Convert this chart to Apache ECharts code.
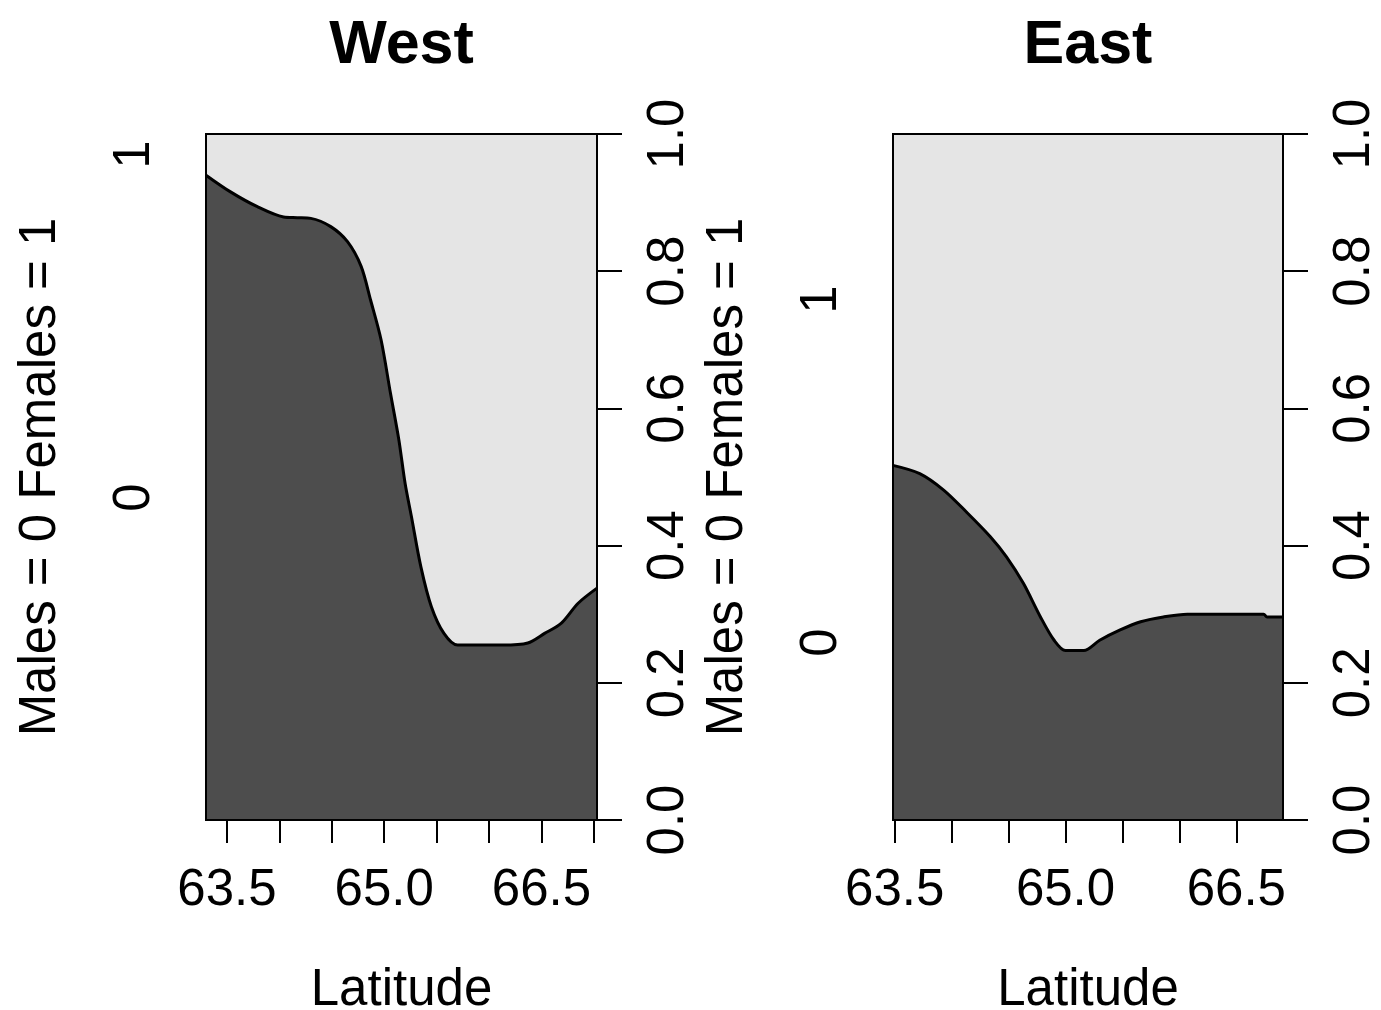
<!DOCTYPE html>
<html>
<head>
<meta charset="utf-8">
<script src="https://cdn.jsdelivr.net/npm/echarts@6/dist/echarts.min.js"></script>
<style>
  html, body { margin: 0; padding: 0; background: #fff; }
  #chart { width: 1381px; height: 1010px; }
</style>
</head>
<body>
<div id="chart"></div>
<script>
// conditional density of sex along latitude, two regions
const panelTitles = ['West', 'East'];
const levelLabels = ['0', '1'];

const westLat = [63.30, 63.53, 63.79, 64.04, 64.17, 64.30, 64.49, 64.65, 64.78, 64.87, 64.97, 65.06, 65.14, 65.20, 65.26, 65.35, 65.45, 65.57, 65.70, 65.90, 66.13, 66.37, 66.53, 66.69, 66.85, 67.03];
const westProp = [0.940, 0.916, 0.894, 0.879, 0.878, 0.877, 0.865, 0.843, 0.807, 0.758, 0.700, 0.622, 0.554, 0.490, 0.442, 0.369, 0.311, 0.272, 0.255, 0.255, 0.255, 0.258, 0.272, 0.287, 0.316, 0.338];

const eastLat = [63.485, 63.72, 63.93, 64.13, 64.34, 64.48, 64.63, 64.78, 64.90, 65.00, 65.16, 65.30, 65.48, 65.66, 65.86, 66.07, 66.30, 66.74, 66.77, 66.91];
const eastProp = [0.517, 0.505, 0.481, 0.449, 0.413, 0.384, 0.345, 0.296, 0.262, 0.247, 0.247, 0.262, 0.277, 0.289, 0.296, 0.300, 0.300, 0.300, 0.296, 0.296];

const latTicks = [63.5, 64.0, 64.5, 65.0, 65.5, 66.0, 66.5, 67.0];
const latLabels = [63.5, 65.0, 66.5];

const FONT = 'Liberation Sans, Arial, Helvetica, sans-serif';
const black = '#000';

const panels = [
  { lat: westLat, prop: westProp, left: 206, width: 391 },
  { lat: eastLat, prop: eastProp, left: 893, width: 390 }
];

const chart = echarts.init(document.getElementById('chart'));

const option = {
  backgroundColor: '#fff',
  animation: false,
  textStyle: { fontFamily: FONT },
  title: panels.map((p, i) => ({
    text: panelTitles[i],
    left: p.left + p.width / 2,
    textAlign: 'center',
    top: 16,
    padding: 0,
    textStyle: { fontSize: 61, fontWeight: 'bold', color: black, fontFamily: FONT }
  })),
  grid: panels.map(p => ({
    left: p.left,
    top: 134,
    width: p.width,
    height: 686,
    show: true,
    backgroundColor: '#E5E5E5',
    borderColor: black,
    borderWidth: 2,
    outerBoundsMode: 'none'
  })),
  xAxis: panels.map((p, i) => ({
    type: 'value',
    gridIndex: i,
    min: p.lat[0],
    max: p.lat[p.lat.length - 1],
    z: 10,
    splitLine: { show: false },
    axisLine: { show: true, lineStyle: { color: black, width: 2 } },
    axisTick: {
      show: true, length: 23,
      customValues: latTicks.filter(v => v <= p.lat[p.lat.length - 1] + 1e-9),
      lineStyle: { color: black, width: 2 }
    },
    axisLabel: {
      customValues: latLabels,
      formatter: v => v.toFixed(1),
      margin: 45,
      fontSize: 51,
      color: black,
      fontFamily: FONT
    },
    name: 'Latitude',
    nameLocation: 'middle',
    nameGap: 145,
    nameTextStyle: { fontSize: 51, color: black, fontFamily: FONT }
  })),
  yAxis: [].concat(...panels.map((p, i) => {
    const first = p.prop[0];
    const levelPos = [first / 2, (first + 1) / 2];
    return [
      {
        type: 'value',
        gridIndex: i,
        position: 'left',
        min: 0, max: 1,
        z: 10,
        splitLine: { show: false },
        axisLine: { show: true, lineStyle: { color: black, width: 2 } },
        axisTick: { show: false },
        axisLabel: {
          customValues: levelPos,
          formatter: v => (v < first ? levelLabels[0] : levelLabels[1]),
          rotate: 90,
          margin: 46,
          fontSize: 51,
          color: black,
          fontFamily: FONT
        },
        name: 'Males = 0 Females = 1',
        nameLocation: 'middle',
        nameGap: 140,
        nameTextStyle: { fontSize: 51, color: black, fontFamily: FONT }
      },
      {
        type: 'value',
        gridIndex: i,
        position: 'right',
        min: 0, max: 1, interval: 0.2,
        z: 10,
        splitLine: { show: false },
        axisLine: { show: true, lineStyle: { color: black, width: 2 } },
        axisTick: { show: true, length: 25, lineStyle: { color: black, width: 2 } },
        axisLabel: {
          formatter: v => v.toFixed(1),
          rotate: 90,
          margin: 46,
          fontSize: 51,
          color: black,
          fontFamily: FONT
        }
      }
    ];
  })),
  series: panels.map((p, i) => ({
    type: 'line',
    xAxisIndex: i,
    yAxisIndex: i * 2,
    data: p.lat.map((x, k) => [x, p.prop[k]]),
    showSymbol: false,
    smooth: 0.3,
    lineStyle: { color: black, width: 3 },
    areaStyle: { color: '#4D4D4D', opacity: 1, origin: 'start' },
    silent: true
  }))
};

chart.setOption(option);
</script>
</body>
</html>
